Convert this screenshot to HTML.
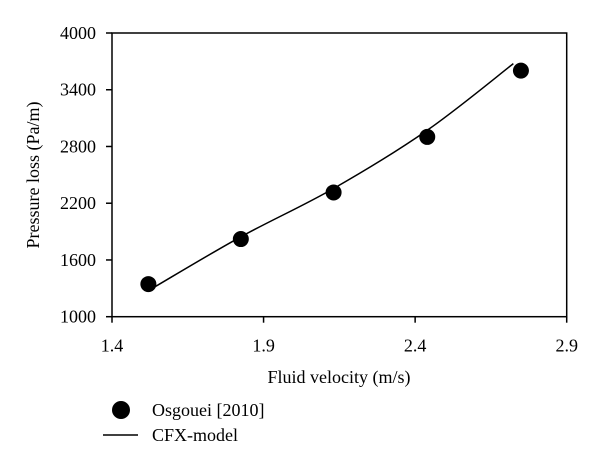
<!DOCTYPE html>
<html><head><meta charset="utf-8">
<style>
html,body{margin:0;padding:0;background:#fff;}
svg{display:block;font-family:"Liberation Serif",serif;}
</style></head>
<body>
<svg id="chart" width="600" height="471" viewBox="0 0 600 471" xmlns="http://www.w3.org/2000/svg">
<rect x="112" y="33" width="454.7" height="283.7" fill="none" stroke="#000" stroke-width="1.5"/>
<g id="ticks"></g>
<g id="marks"></g>
<text x="339" y="383" font-size="18" text-anchor="middle">Fluid velocity (m/s)</text>
<text transform="translate(39,175) rotate(-90)" font-size="18" text-anchor="middle">Pressure loss (Pa/m)</text>
<g>
<circle cx="121" cy="410" r="9" fill="#000"/>
<text x="152" y="416" font-size="18">Osgouei [2010]</text>
<line x1="103" y1="435" x2="138" y2="435" stroke="#000" stroke-width="1.5"/>
<text x="152" y="441" font-size="18">CFX-model</text>
</g>
</svg>
<script>
const xTicks = [1.4, 1.9, 2.4, 2.9];
const yTicks = [1000, 1600, 2200, 2800, 3400, 4000];
const expX = [1.52, 1.825, 2.131, 2.44, 2.749];
const expY = [1345, 1821, 2314, 2901, 3602];
const modelX = [1.542, 1.825, 2.131, 2.44, 2.724];
const modelY = [1317, 1845, 2356, 2972, 3676];

const L=112,R=566.7,T=33,B=316.7;
const sx = v => L + (v-1.4)/(2.9-1.4)*(R-L);
const sy = v => B - (v-1000)/(4000-1000)*(B-T);
const NS="http://www.w3.org/2000/svg";
const ticks=document.getElementById('ticks'), marks=document.getElementById('marks');
function mk(tag,attrs,parent){const e=document.createElementNS(NS,tag);for(const k in attrs)e.setAttribute(k,attrs[k]);parent.appendChild(e);return e;}

xTicks.forEach(v=>{
  const t=mk('line',{x1:sx(v),x2:sx(v),y1:B,y2:B+6,stroke:'#000','stroke-width':1.5},ticks);
  
  
  const l=mk('text',{x:sx(v),y:B+35,'font-size':18,'text-anchor':'middle'},ticks);
  l.textContent=v.toFixed(1);
  
  
});
yTicks.forEach(v=>{
  const t=mk('line',{x1:L-6,x2:L,y1:sy(v),y2:sy(v),stroke:'#000','stroke-width':1.5},ticks);
  
  
  const l=mk('text',{x:L-16,y:sy(v)+6,'font-size':18,'text-anchor':'end'},ticks);
  l.textContent=v;
  
  
});

const pts=modelX.map((x,i)=>[sx(x),sy(modelY[i])]);
let d='M'+pts[0][0]+','+pts[0][1];
for(let i=0;i<pts.length-1;i++){
  const p0=pts[Math.max(i-1,0)],p1=pts[i],p2=pts[i+1],p3=pts[Math.min(i+2,pts.length-1)];
  const c1=[p1[0]+(p2[0]-p0[0])/6,p1[1]+(p2[1]-p0[1])/6];
  const c2=[p2[0]-(p3[0]-p1[0])/6,p2[1]-(p3[1]-p1[1])/6];
  d+=' C'+c1+' '+c2+' '+p2;
}
const path=mk('path',{d:d,fill:'none',stroke:'#000','stroke-width':1.5},marks);



expX.forEach((x,i)=>{
  const c=mk('circle',{cx:sx(x),cy:sy(expY[i]),r:8,fill:'#000'},marks);
  
  
});
</script>
</body></html>
